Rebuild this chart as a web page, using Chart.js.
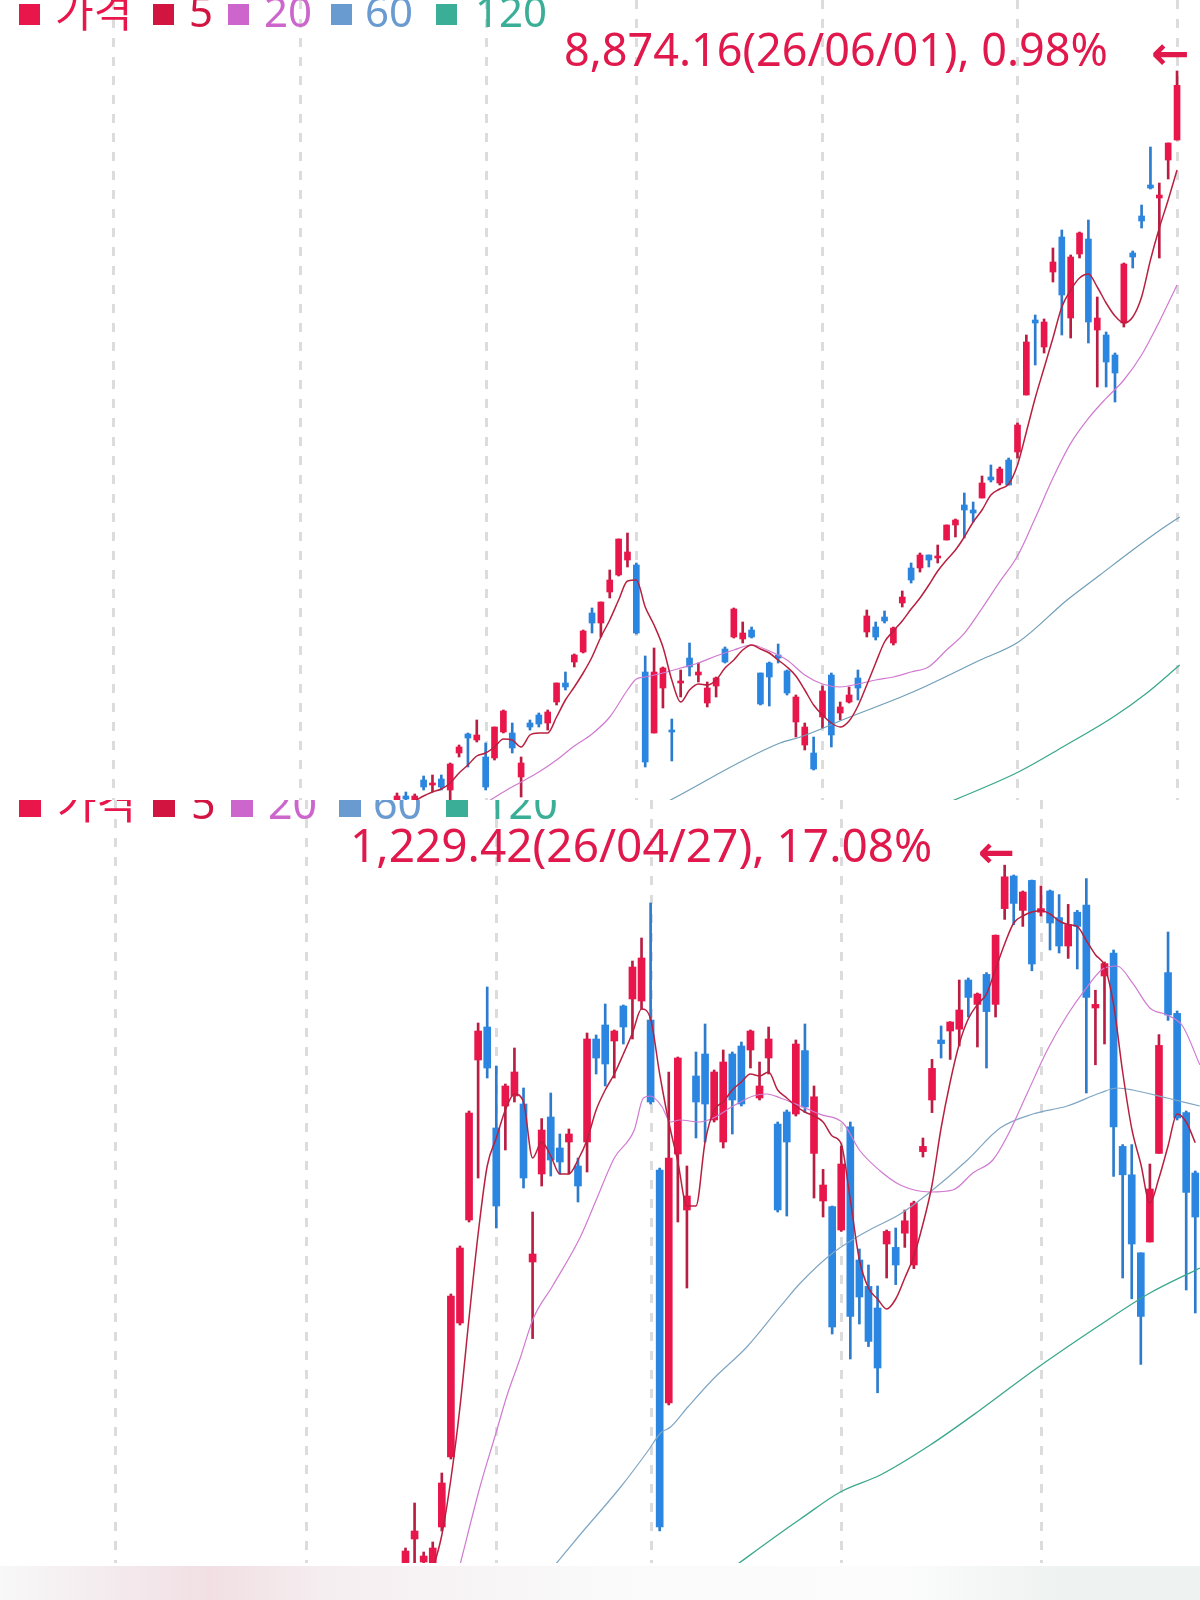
<!DOCTYPE html>
<html>
<head>
<meta charset="utf-8">
<script src="https://cdn.jsdelivr.net/npm/chart.js@4.4.1/dist/chart.umd.min.js"></script>
<style>
  body { margin: 0; width: 1200px; height: 1600px; background: #fff; position: relative; overflow: hidden;
         font-family: 'Noto Sans', 'Noto Sans CJK KR', sans-serif; }
  .panel { position: absolute; left: 0; width: 1200px; overflow: hidden; background: #fff; }
  .panel canvas { position: absolute; left: 0; top: 0; }
  .txt { position: absolute; white-space: nowrap; line-height: 1; }
  .sq { position: absolute; }
  #strip { position: absolute; left: 0; top: 1566px; width: 1200px; height: 34px;
           background: linear-gradient(to right, #f8f8f8 0, #f4ecef 100px, #f1dfe4 210px, #f5eef0 330px, #fafafa 600px, #fcfcfc 900px, #eef2f1 1060px, #eef2f1 1200px); }
</style>
</head>
<body>
<div class="panel" id="topPanel" style="top:0;height:800px"><canvas id="topChart" width="1200" height="800"></canvas></div>
<div class="panel" id="botPanel" style="top:800px;height:763px"><canvas id="botChart" width="1200" height="763"></canvas></div>
<div id="strip"></div>
<script>
// month start positions (trading-day index), shared by both panels
var gridIdx = [-32, -11, 10, 27, 48, 70, 88];

var legendNames = ['가격', '5', '20', '60', '120'];
var legendColors = ['#e8164b', '#d21441', '#cc66cc', '#6a9bd0', '#3aae96'];

// ---- upper panel (index ending 26/06/01) ----
var topOpen = [4494,4524,4500,4620,4590,4626,4560,4782,4896,4860, 4758,4752,4908,4902,4638,4962,5010,4962,5088,5202,
  5328,5388,5622,5562,5748,5850,5940,5910,5268,4902, 5172,4920,5202,5352,5250,5082,5184,5406,5478,5466,
  5520,5262,5322,5370,5274,4968,4830,4782,4998,5250, 5022,5088,5232,5508,5538,5598,5442,5682,5892,5892,
  5970,5952,6060,6150,6270,6240,6312,6438,6402,6540, 6588,6930,7380,7218,7668,7878,7392,7776,7866,7320,
  7290,7170,7362,7782,8004,8190,8112,8340,8460];
var topHigh = [4542,4548,4536,4644,4650,4650,4722,4830,4902,4980, 4842,4938,5040,4962,4758,4980,5022,5040,5202,5268,
  5376,5520,5652,5688,5880,6066,6102,5922,5364,5412, 5298,4986,5280,5442,5322,5208,5238,5418,5652,5568,
  5538,5262,5328,5436,5280,5130,4962,4878,5184,5262, 5088,5178,5280,5640,5568,5634,5538,5754,5922,5982,
  5970,6030,6150,6186,6342,6288,6444,6510,6498,6552, 6762,7290,7410,7386,7812,7920,7770,7908,7980,7518,
  7308,7182,7722,7794,8070,8418,8202,8442,8874.16];
var topLow = [4482,4482,4488,4560,4548,4560,4488,4758,4698,4848, 4560,4740,4902,4782,4518,4920,4938,4920,5070,5160,
  5298,5382,5502,5478,5712,5844,5898,5496,4698,4902, 5052,4734,5118,5244,5208,5058,5118,5322,5472,5442,
  5472,5070,5064,5322,5130,4878,4800,4680,4932,4818, 4980,5082,5100,5478,5460,5562,5430,5658,5802,5868,
  5898,5922,6060,6078,6072,6168,6312,6408,6390,6390, 6552,6930,7110,7182,7608,7290,7272,7752,7242,6978,
  6978,6888,7338,7692,7932,8166,7752,8226,8460];
var topClose = [4524,4506,4524,4578,4602,4578,4716,4818,4872,4890, 4578,4938,5034,4812,4722,4938,4956,5028,5202,5178,
  5370,5514,5562,5688,5820,6066,5988,5502,4728,5268, 5292,4908,5214,5298,5268,5172,5232,5328,5646,5502,
  5478,5076,5238,5352,5142,5118,4938,4686,5154,4890, 5058,5130,5172,5604,5478,5574,5532,5718,5820,5970,
  5940,5964,6150,6180,6240,6222,6402,6420,6486,6390, 6750,7248,7362,7368,7728,7530,7758,7902,7368,7392,
  7128,7062,7716,7758,7974,8172,8130,8442,8788];
var topMa5 = [4428,4464,4494,4524,4548,4566,4602,4662,4710,4764, 4782,4818,4866,4860,4818,4890,4902,4902,4998,5100,
  5178,5262,5358,5478,5580,5700,5814,5820,5658,5550, 5418,5220,5088,5160,5196,5190,5220,5292,5340,5400,
  5430,5406,5382,5340,5298,5244,5160,5070,5010,4962, 4938,4974,5064,5190,5322,5448,5514,5574,5646,5712,
  5790,5874,5940,6000,6078,6168,6240,6330,6366,6396, 6510,6708,6912,7092,7272,7458,7560,7632,7656,7578,
  7482,7404,7362,7398,7518,7740,7932,8100,8280];
var topMa20 = [[10,4482],[12,4548],[14,4608],[16,4668],[18,4740],[20,4824],[22,4896],[24,4998],[26,5160],[27,5226],
  [28,5238],[30,5262],[32,5292],[34,5322],[36,5364],[38,5400],[40,5430],[42,5394],[44,5340],[46,5250],[48,5196],
  [50,5178],[52,5196],[54,5220],[56,5238],[58,5268],[60,5300],[62,5400],[64,5500],[66,5650],[68,5810],[70,5964],
  [72,6192],[74,6432],[76,6640],[78,6790],[80,6910],[82,7020],[84,7170],[86,7370],[88,7590]];
var topMa60 = [[30.5,4490],[43.2,4842],[45.5,4878],[50.8,4992],[58.2,5148],[65.8,5340],[70.1,5448],[75.6,5700],
  [79.3,5850],[83,6000],[86.1,6120],[88.3,6198]];
var topMa120 = [[62,4480],[70.1,4668],[75.1,4818],[80.8,4998],[84.6,5142],[88.3,5310]];

// ---- lower panel (index, high 26/04/27) ----
var botOpen = [880.5,892.5,881,880.5,898.5,933.5,1000.5,1052,1132,1148.5, 1098,1109,1114,1110,1031,1075,1103.5,1088,1091,1079,
  1091,1142.5,1149.5,1141.5,1159,1162.5,1161.5,1152,1077,960.5, 1085,1057,1124,1135,1102,1091,1135,1139,1137,1113,
  1133,1100,1106,1105,1136.7,1085.3,1061.5,1058.7,1047,1098.6, 1032,1018.8,1008,1040,1038.3,1045.4,1029.5,1086.2,1112,1142,
  1146.5,1147.4,1172,1159.8,1174.8,1159.8,1207.7,1224,1206.8,1221.8, 1205.9,1216.5,1203.2,1189,1205.9,1209.4,1158,1174,1185.5,1088.8,
  1074.6,1035.6,1041,1085.3,1175.7,1155.3,1105.7,1075.5];
var botHigh = [888,910.5,886,891,925.5,1015,1039,1106.5,1150.5,1168.5, 1129,1120,1138,1118,1056,1102.7,1115.5,1095,1097.5,1083,
  1145.5,1144.5,1160,1147,1159.5,1181.5,1193,1210.5,1078,1126, 1133.5,1079,1136,1150,1127,1137,1136,1141,1147,1131,
  1148.5,1101,1107,1142,1150,1119,1077.3,1059,1089,1101, 1037.5,1029.5,1019,1047,1048,1057,1061.4,1093,1132.3,1149,
  1151.2,1172,1173,1165.5,1175.7,1194.5,1229.42,1224.5,1216.5,1222, 1219,1217,1214.7,1209.8,1206.8,1222.7,1166.9,1181,1187,1089.7,
  1089.7,1035.6,1080,1144.7,1196,1156.5,1106.5,1076.5];
var botLow = [879,880.5,878,879,896.5,932.5,999.5,1051,1073,1123, 1048,1087,1111,1068,992.7,1069,1074,1075,1075,1061,
  1076,1125,1119,1123,1140,1142.5,1157.5,1110,896.5,959.5, 1051,1018,1093,1091,1101,1088,1095,1109,1128,1112,
  1125,1056,1054,1104,1105.7,1063,1053.5,995,1046.3,982.5, 1000,988.7,965.6,1023,1019.7,1038.3,1027.7,1083.5,1105.7,1133,
  1132.3,1139,1153.5,1138.5,1128,1153.5,1202.3,1199.7,1198.8,1176.6, 1204,1187,1185.5,1182.8,1177.5,1115.5,1129.6,1140,1073.8,1023,
  1012.6,979.8,1041,1085.3,1151.8,1102,1017,1005.5];
var botClose = [886.5,896.5,884,888,920.5,1014,1038,1105.5,1146.5,1128, 1059,1119,1126,1073,1035,1097,1082,1081,1095,1069,
  1142.5,1133,1130,1146.5,1148.5,1178.5,1183,1111,898.5,1083, 1133,1064,1111,1110,1126,1131,1112,1110,1146.5,1119,
  1142.5,1057,1091,1140,1108.5,1113.6,1069.5,998.5,1080,1003.8, 1013.5,991.3,978,1046.3,1029.5,1051.6,1060.5,1088.8,1127.8,1140.2,
  1151,1157,1163.3,1165,1156.2,1194.4,1223.6,1210.3,1216,1180, 1207.7,1200.5,1189,1199.7,1198.8,1163.3,1159.8,1180.2,1098.6,1074.6,
  1040,1003.8,1067.5,1139.3,1154.5,1103,1065.8,1053.5];
var botMa5 = [[3,877],[4,894.5],[5,922.5],[6,958.5],[7,1003],[8,1045],[9,1079],[10,1093],[11,1107],[12,1115],[13,1111],
  [14,1083],[15,1091],[16,1084],[17,1075],[18,1075],[19,1082],[20,1092],[21,1107],[22,1117],[23,1125],[24,1135],
  [25,1145.5],[26,1157.5],[27,1152.5],[28,1125],[29,1101],[30,1081],[31,1059],[32,1059],[33,1091],[34,1107],[35,1111],
  [36,1117],[37,1121],[38,1125],[39,1124],[40,1126],[41,1117],[42,1113],[43,1109],[44,1106],[45,1104],[46,1101],
  [47,1094],[48,1090],[49,1062],[50,1032],[51,1018],[52,1012.5],[53,1007.5],[54,1012.5],[55,1023],[56,1034],[57,1050],
  [58,1069.5],[59,1098],[60,1121],[61,1140],[62,1152.6],[63,1159.8],[64,1165],[65,1177.5],[66,1190],[67,1200.5],
  [68,1204],[69,1206],[70,1206.8],[71,1205],[72,1201.5],[73,1199.7],[74,1198.8],[75,1191.7],[76,1184.6],[77,1179],
  [78,1159.8],[79,1126],[80,1097.7],[81,1080],[82,1060.5],[83,1073],[84,1089],[85,1105],[86,1101],[87,1090.6]];
var botMa20 = [[6,879.5],[8.2,918.5],[9.9,944.5],[11.2,964.5],[12.6,982.5],[14.1,1003],[16.2,1019],[19.2,1043],
  [21.1,1063],[23,1083],[25.2,1097],[26.2,1113],[27,1114],[28.2,1109],[29.2,1101],[30.2,1102],[32.4,1101],[33.9,1103],
  [36.1,1109],[38.3,1114],[39.8,1115],[41.3,1113],[43.5,1109],[45.7,1104.8],[48.2,1100.5],[50,1087],[52.3,1076.5],
  [54.5,1069.5],[57.8,1066],[60.3,1067],[62.5,1075.5],[64.7,1082],[66.3,1094],[68.5,1115.5],[70.7,1137],[72.9,1154.5],
  [75.1,1168.6],[76.8,1177.5],[78.4,1179],[80.1,1170.4],[82,1158],[83.9,1154.5],[85.6,1149],[87.5,1129.6]];
var botMa60 = [[16,877],[19.2,894.5],[23.7,918.5],[26.7,936.5],[28.1,945.5],[29.2,948.5],[31.1,958.5],[33.9,972.5],
  [37.6,988.5],[41.3,1008.8],[43.5,1020.5],[47.1,1035.6],[50.8,1046.3],[54.5,1055],[57.8,1066],[61.9,1082],[65.5,1098],
  [69.1,1105],[72.9,1109],[76.5,1115.5],[78.4,1118],[80.1,1117],[83.9,1113],[87.5,1109]];
var botMa120 = [[35.7,877],[41.3,895.5],[43.5,902.5],[47.9,916],[52.3,924.5],[57.8,939.5],[63.3,957],[69.1,976.5],
  [76.5,999.5],[82,1015.5],[87.5,1028]];

var UP = '#e8164b', DOWN = '#2a86e0', UP_WICK = '#b91d42', DOWN_WICK = '#2c7bcc';

// dashed month lines, placed through the x scale
var monthLines = {
  id: 'monthLines',
  beforeDatasetsDraw: function(chart) {
    var ctx = chart.ctx, xs = chart.scales.x, area = chart.chartArea;
    ctx.save();
    ctx.strokeStyle = '#dcdcdc';
    ctx.lineWidth = 3;
    ctx.setLineDash([9, 10]);
    gridIdx.forEach(function(v) {
      var px = Math.round(xs.getPixelForValue(v)) + 0.5;
      ctx.beginPath();
      ctx.moveTo(px, area.top);
      ctx.lineTo(px, area.bottom);
      ctx.stroke();
    });
    ctx.restore();
  }
};

function candleSets(open, high, low, close, bodyW) {
  var bodies = [], wicks = [], bodyCol = [], wickCol = [];
  for (var i = 0; i < open.length; i++) {
    var up = close[i] >= open[i];
    bodies.push({x: i, y: [open[i], close[i]]});
    wicks.push({x: i, y: [low[i], high[i]]});
    bodyCol.push(up ? UP : DOWN);
    wickCol.push(up ? UP_WICK : DOWN_WICK);
  }
  return [
    {type: 'bar', data: bodies, backgroundColor: bodyCol, barThickness: bodyW, minBarLength: 2, grouped: false, order: 2},
    {type: 'bar', data: wicks, backgroundColor: wickCol, barThickness: 2, grouped: false, order: 3}
  ];
}

function maSet(points, color, width) {
  return {
    type: 'line',
    data: points.map(function(p) { return {x: p[0], y: p[1]}; }),
    borderColor: color, borderWidth: width, pointRadius: 0,
    cubicInterpolationMode: 'monotone', fill: false, order: 1
  };
}

function makeChart(id, datasets, xMin, xMax, yMin, yMax) {
  return new Chart(document.getElementById(id), {
    type: 'bar',
    data: { datasets: datasets },
    plugins: [monthLines],
    options: {
      responsive: false, animation: false, devicePixelRatio: 1, events: [],
      layout: { padding: 0 },
      plugins: { legend: { display: false }, tooltip: { enabled: false } },
      scales: {
        x: { type: 'linear', display: false, min: xMin, max: xMax, offset: false },
        y: { display: false, min: yMin, max: yMax }
      }
    }
  });
}

var topIdxMa5 = topMa5.map(function(v, i) { return [i, v]; });
makeChart('topChart',
  [maSet(topIdxMa5, '#b8203f', 1.5), maSet(topMa20, '#d07ad0', 1.2), maSet(topMa60, '#6f9fb8', 1.2), maSet(topMa120, '#3aa88c', 1.3)]
    .concat(candleSets(topOpen, topHigh, topLow, topClose, 6)),
  -44.79, 90.59, 4500, 9300);

makeChart('botChart',
  [maSet(botMa5, '#b8203f', 1.5), maSet(botMa20, '#d07ad0', 1.2), maSet(botMa60, '#7fa6c4', 1.2), maSet(botMa120, '#3aa88c', 1.3)]
    .concat(candleSets(botOpen, botHigh, botLow, botClose, 7)),
  -44.67, 87.52, 880.5, 1262);

// ---- text overlays ----
function addText(panel, str, left, baseline, size, color, family, weight, asc) {
  var el = document.createElement('span');
  el.className = 'txt';
  el.textContent = str;
  el.style.left = left + 'px';
  el.style.top = (baseline - asc * size) + 'px';
  el.style.fontSize = size + 'px';
  el.style.color = color;
  if (family) el.style.fontFamily = family;
  if (weight) el.style.fontWeight = weight;
  document.getElementById(panel).appendChild(el);
}
function addSquare(panel, left, top, size, color) {
  var el = document.createElement('div');
  el.className = 'sq';
  el.style.left = left + 'px'; el.style.top = top + 'px';
  el.style.width = size + 'px'; el.style.height = size + 'px';
  el.style.background = color;
  document.getElementById(panel).appendChild(el);
}

var topSqLeft = [19, 153, 228, 331, 436], topTxtLeft = [55, 189, 264, 365, 475];
var botSqLeft = [19, 153, 231, 339, 446], botTxtLeft = [57, 191, 268, 373, 484];
for (var k = 0; k < legendNames.length; k++) {
  addSquare('topPanel', topSqLeft[k], 4, 21, legendColors[k]);
  addText('topPanel', legendNames[k], topTxtLeft[k], 27, 42, legendColors[k], null, null, 0.888);
  addSquare('botPanel', botSqLeft[k], -4.5, 21.5, legendColors[k]);
  addText('botPanel', legendNames[k], botTxtLeft[k], 19, 43, legendColors[k], null, null, 0.888);
}

addText('topPanel', '8,874.16(26/06/01), 0.98%', 564, 66, 45, '#e0184b', null, null, 0.888);
addText('topPanel', '←', 1151, 69, 46, '#e0184b', "'DejaVu Sans', sans-serif", 'bold', 0.846);
addText('botPanel', '1,229.42(26/04/27), 17.08%', 350, 62, 46, '#e0184b', null, null, 0.888);
addText('botPanel', '←', 978, 67, 44, '#e0184b', "'DejaVu Sans', sans-serif", 'bold', 0.846);
</script>
</body>
</html>
